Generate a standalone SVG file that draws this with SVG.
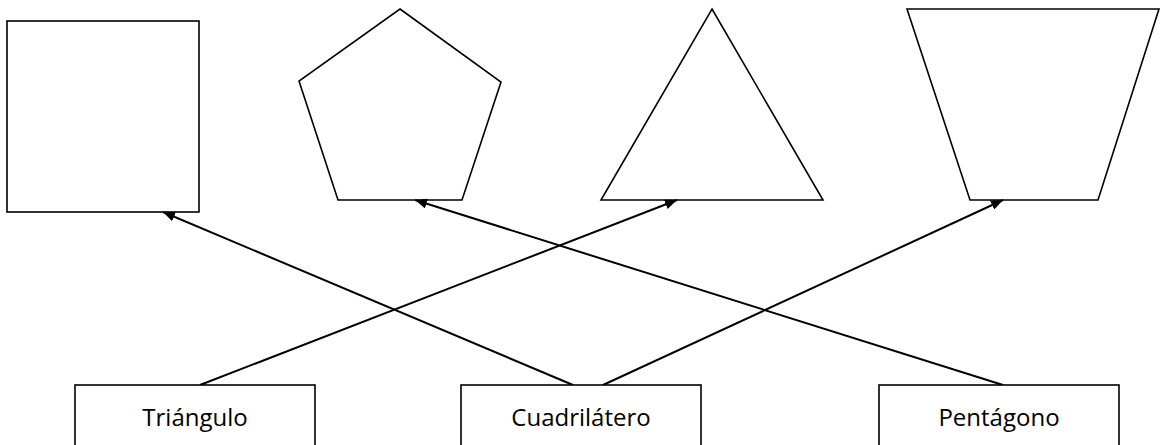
<svg xmlns="http://www.w3.org/2000/svg" width="1164" height="445" viewBox="0 0 1164 445">
<style>
.shape{fill:#fff;stroke:#000;stroke-width:1.6}
.box{fill:#fff;stroke:#000;stroke-width:1.6}
.lbl{font-family:"Open Sans","Liberation Sans",sans-serif;font-size:24px;fill:#000;text-anchor:middle}
.conn{stroke:#000;stroke-width:2;fill:none;marker-end:url(#ah)}
</style>
<defs>
<marker id="ah" viewBox="0 0 12 10" refX="12" refY="5" markerWidth="12" markerHeight="10" markerUnits="userSpaceOnUse" orient="auto">
<path d="M0,0 L12,5 L0,10 Z" fill="#000"/>
</marker>
</defs>
<rect width="1164" height="445" fill="#fff"/>
<g id="square"><rect class="shape" x="7" y="21" width="192" height="191"/></g>
<g id="pentagon"><polygon class="shape" points="400,9 501,82 462,200 338,200 299,81"/></g>
<g id="triangle"><polygon class="shape" points="712,9 823,200 601,200"/></g>
<g id="trapezoid"><polygon class="shape" points="907,9 1159,9 1098,200 970,200"/></g>
<g id="connectors">
<line class="conn" x1="573" y1="385" x2="163" y2="212"/>
<line class="conn" x1="200" y1="385" x2="677" y2="200"/>
<line class="conn" x1="603" y1="385" x2="1003" y2="200"/>
<line class="conn" x1="1003" y1="385" x2="415" y2="200"/>
</g>
<g id="node-triangulo"><rect class="box" x="75" y="385" width="240" height="70"/><text class="lbl" x="195" y="426">Triángulo</text></g>
<g id="node-cuadrilatero"><rect class="box" x="461" y="385" width="240" height="70"/><text class="lbl" x="581" y="426">Cuadrilátero</text></g>
<g id="node-pentagono"><rect class="box" x="879" y="385" width="240" height="70"/><text class="lbl" x="999" y="426">Pentágono</text></g>
</svg>
